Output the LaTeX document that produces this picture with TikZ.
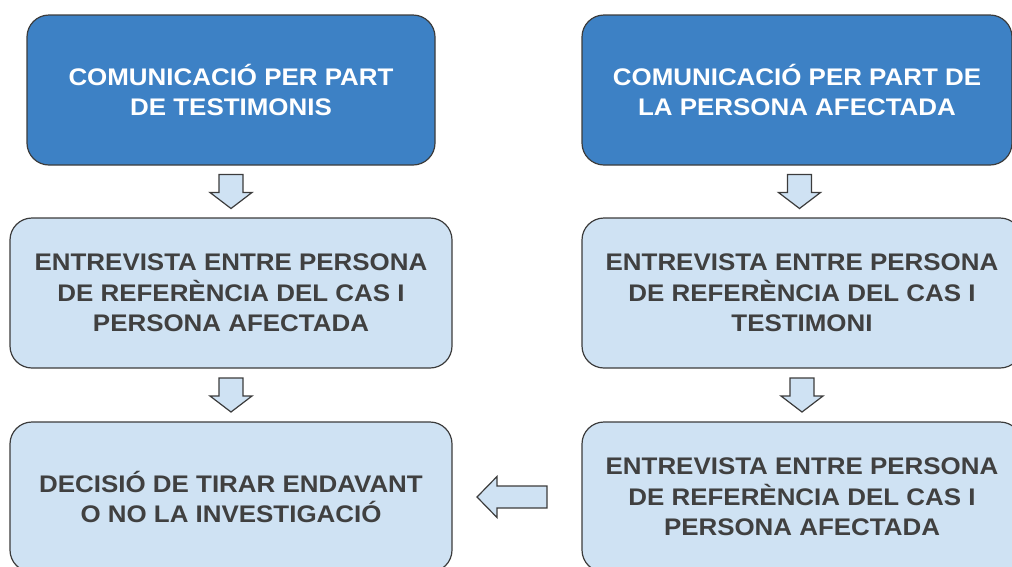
\documentclass[tikz,border=0pt]{standalone}
\usepackage{fontspec}
\setmainfont{Liberation Sans}[FakeStretch=1.08]
\usetikzlibrary{calc}

\definecolor{topblue}{RGB}{61,129,197}
\definecolor{paleblue}{RGB}{207,226,243}
\definecolor{textgray}{RGB}{64,64,64}
\definecolor{edgegray}{RGB}{60,60,60}

\tikzset{
  stepbox/.style={draw=edgegray, line width=1.2pt, rounded corners=22pt,
    minimum height=150pt, align=center, inner sep=0pt,
    font=\fontsize{24pt}{30.5pt}\selectfont\bfseries},
  startbox/.style={stepbox, fill=topblue, text=white},
  midbox/.style={stepbox, fill=paleblue, text=textgray},
  blockarr/.style={draw=edgegray, line width=1.2pt, fill=paleblue, line join=miter}
}

\begin{document}
\begin{tikzpicture}[x=1pt, y=-1pt]
		\useasboundingbox (0,0) rectangle (1012,566);
		
		% Boxes
		\node[startbox, minimum width=408pt] (tl) at (231,90)  {COMUNICACIÓ PER PART\\DE TESTIMONIS};
		\node[startbox, minimum width=430pt] (tr) at (797,90)  {COMUNICACIÓ PER PART DE\\LA PERSONA AFECTADA};
		\node[midbox, minimum width=442pt]   (ml) at (231,293) {ENTREVISTA ENTRE PERSONA\\DE REFERÈNCIA DEL CAS I\\PERSONA AFECTADA};
		\node[midbox, minimum width=440pt]   (mr) at (802,293) {ENTREVISTA ENTRE PERSONA\\DE REFERÈNCIA DEL CAS I\\TESTIMONI};
		\node[midbox, minimum width=442pt]   (bl) at (231,497) {DECISIÓ DE TIRAR ENDAVANT\\O NO LA INVESTIGACIÓ};
		\node[midbox, minimum width=440pt]   (br) at (802,497) {ENTREVISTA ENTRE PERSONA\\DE REFERÈNCIA DEL CAS I\\PERSONA AFECTADA};
		
		% Down arrows
		\foreach \a/\b in {tl/ml, ml/bl, tr/mr, mr/br}{
			\draw[blockarr] ($(\a.south)!.5!(\b.north)$) ++(-12,-17) -- ++(24,0) -- ++(0,18)
				-- ++(9,0) -- ++(-21,16) -- ++(-21,-16) -- ++(9,0) -- cycle;
		}
		
		% Left arrow
		\draw[blockarr] ($(br.west)!.5!(bl.east)$) ++(30,-11) -- ++(0,22) -- ++(-50,0)
			-- ++(0,9.5) -- ++(-20,-20.5) -- ++(20,-20.5) -- ++(0,9.5) -- cycle;
\end{tikzpicture}
\end{document}
